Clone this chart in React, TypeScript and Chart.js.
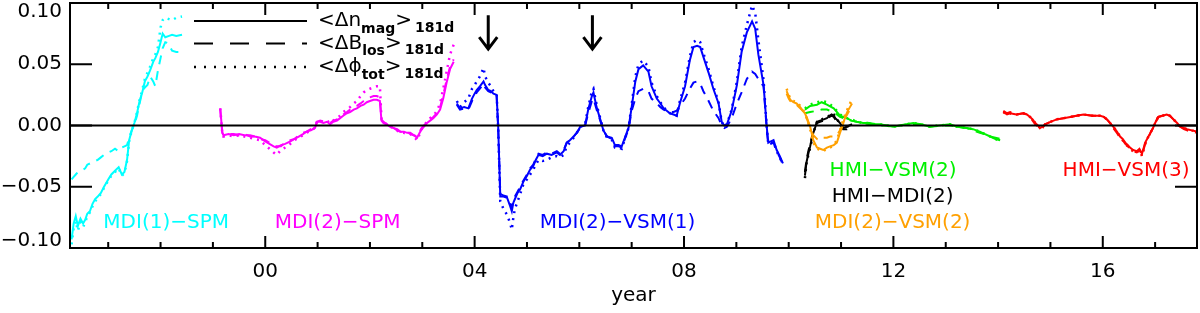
import React, { useEffect, useRef } from "react";
import { Chart, registerables } from "chart.js";

Chart.register(...registerables);

// ---------- axes ----------
const X_MIN = 1996.27;
const X_MAX = 2017.8;
const Y_MIN = -0.1;
const Y_MAX = 0.1;
const X_MAJOR = [2000, 2004, 2008, 2012, 2016];
const X_MAJOR_LABELS = ["00", "04", "08", "12", "16"];
const X_MINOR = [1997, 1998, 1999, 2001, 2002, 2003, 2005, 2006, 2007, 2009, 2010, 2011, 2013, 2014, 2015, 2017];
const Y_MAJOR = [-0.1, -0.05, 0, 0.05, 0.1];
const Y_MAJOR_LABELS = ["\u22120.10", "\u22120.05", "0.00", "0.05", "0.10"];
const X_TITLE = "year";

// ---------- MDI(1)-SPM (cyan) ----------
const cyanYears = [1996.30, 1996.34, 1996.38, 1996.42, 1996.47, 1996.52, 1996.56, 1996.60, 1996.65, 1996.70, 1996.75, 1996.80, 1996.86, 1996.92, 1997.00, 1997.06, 1997.13, 1997.20, 1997.26, 1997.31, 1997.36, 1997.40, 1997.45, 1997.50, 1997.55, 1997.60, 1997.65, 1997.70, 1997.75, 1997.80, 1997.86, 1997.90, 1997.95, 1998.00, 1998.04, 1998.09, 1998.15, 1998.22, 1998.30, 1998.41];
const cyanSolid = [-0.093, -0.080, -0.074, -0.082, -0.076, -0.080, -0.077, -0.072, -0.070, -0.064, -0.060, -0.058, -0.055, -0.050, -0.044, -0.040, -0.037, -0.034, -0.040, -0.038, -0.028, -0.012, -0.004, 0.002, 0.010, 0.020, 0.027, 0.036, 0.040, 0.045, 0.052, 0.055, 0.060, 0.068, 0.075, 0.072, 0.073, 0.074, 0.073, 0.074];
const cyanDashed = [-0.044, -0.042, -0.040, -0.038, -0.037, -0.036, -0.035, -0.032, -0.031, -0.030, -0.029, -0.028, -0.026, -0.024, -0.022, -0.021, -0.019, -0.021, -0.018, -0.017, -0.016, -0.010, -0.004, 0.001, 0.008, 0.018, 0.028, 0.031, 0.033, 0.040, 0.036, 0.032, 0.045, 0.055, 0.063, 0.068, 0.067, 0.061, 0.060, 0.060];
const cyanDotted = [-0.097, -0.084, -0.078, -0.086, -0.079, -0.083, -0.079, -0.074, -0.071, -0.066, -0.062, -0.059, -0.056, -0.051, -0.045, -0.041, -0.038, -0.035, -0.041, -0.039, -0.029, -0.013, -0.004, 0.002, 0.011, 0.021, 0.029, 0.038, 0.043, 0.048, 0.055, 0.058, 0.064, 0.080, 0.086, 0.088, 0.087, 0.086, 0.088, 0.089];

// ---------- MDI(2)-SPM (magenta) ----------
const magentaYears = [1999.14, 1999.16, 1999.18, 1999.20, 1999.30, 1999.40, 1999.50, 1999.60, 1999.71, 1999.80, 1999.90, 2000.00, 2000.08, 2000.16, 2000.22, 2000.30, 2000.38, 2000.48, 2000.56, 2000.64, 2000.72, 2000.79, 2000.87, 2000.95, 2000.99, 2001.05, 2001.11, 2001.18, 2001.24, 2001.30, 2001.37, 2001.43, 2001.49, 2001.56, 2001.62, 2001.69, 2001.75, 2001.82, 2001.88, 2001.94, 2002.00, 2002.07, 2002.13, 2002.19, 2002.22, 2002.26, 2002.32, 2002.38, 2002.45, 2002.52, 2002.58, 2002.65, 2002.71, 2002.77, 2002.84, 2002.90, 2002.95, 2002.99, 2003.05, 2003.09, 2003.15, 2003.21, 2003.28, 2003.34, 2003.40, 2003.47, 2003.53, 2003.60];
const magentaSolid = [0.014, 0.004, -0.006, -0.008, -0.007, -0.008, -0.007, -0.008, -0.008, -0.009, -0.010, -0.013, -0.015, -0.017, -0.018, -0.016, -0.015, -0.013, -0.011, -0.009, -0.007, -0.005, -0.004, -0.002, 0.003, 0.003, 0.002, 0.003, 0.001, 0.003, 0.004, 0.006, 0.008, 0.010, 0.011, 0.013, 0.014, 0.016, 0.017, 0.019, 0.020, 0.021, 0.021, 0.020, 0.004, 0.002, 0.001, -0.001, -0.002, -0.004, -0.005, -0.005, -0.006, -0.006, -0.008, -0.010, -0.006, -0.003, 0.000, 0.002, 0.004, 0.006, 0.009, 0.013, 0.022, 0.036, 0.046, 0.052];
const magentaDashed = [0.013, 0.003, -0.006, -0.007, -0.007, -0.007, -0.008, -0.007, -0.009, -0.009, -0.011, -0.012, -0.014, -0.016, -0.017, -0.017, -0.014, -0.012, -0.011, -0.008, -0.006, -0.005, -0.003, -0.001, 0.003, 0.004, 0.003, 0.002, 0.002, 0.004, 0.005, 0.007, 0.009, 0.011, 0.013, 0.015, 0.016, 0.018, 0.020, 0.022, 0.023, 0.024, 0.024, 0.023, 0.005, 0.003, 0.001, 0.000, -0.002, -0.003, -0.005, -0.006, -0.005, -0.007, -0.008, -0.009, -0.005, -0.002, 0.001, 0.003, 0.005, 0.007, 0.010, 0.015, 0.025, 0.038, 0.048, 0.054];
const magentaDotted = [0.014, 0.004, -0.007, -0.009, -0.008, -0.009, -0.008, -0.009, -0.010, -0.011, -0.012, -0.016, -0.019, -0.022, -0.024, -0.020, -0.018, -0.015, -0.012, -0.010, -0.008, -0.006, -0.004, -0.002, 0.004, 0.004, 0.003, 0.004, 0.002, 0.004, 0.006, 0.008, 0.011, 0.013, 0.015, 0.018, 0.020, 0.024, 0.027, 0.029, 0.030, 0.031, 0.032, 0.032, 0.006, 0.003, 0.001, -0.001, -0.002, -0.004, -0.006, -0.006, -0.007, -0.007, -0.009, -0.012, -0.007, -0.003, 0.001, 0.003, 0.006, 0.008, 0.012, 0.018, 0.030, 0.045, 0.058, 0.066];

// ---------- MDI(2)-VSM(1) (blue) ----------
const blueYears = [2003.66, 2003.72, 2003.80, 2003.88, 2003.95, 2004.00, 2004.04, 2004.10, 2004.17, 2004.20, 2004.26, 2004.31, 2004.36, 2004.42, 2004.45, 2004.49, 2004.55, 2004.62, 2004.68, 2004.71, 2004.74, 2004.77, 2004.82, 2004.87, 2004.93, 2005.00, 2005.06, 2005.12, 2005.17, 2005.22, 2005.30, 2005.38, 2005.47, 2005.57, 2005.63, 2005.70, 2005.76, 2005.82, 2005.89, 2005.95, 2006.02, 2006.11, 2006.17, 2006.24, 2006.27, 2006.33, 2006.40, 2006.46, 2006.53, 2006.62, 2006.68, 2006.75, 2006.81, 2006.87, 2006.94, 2007.00, 2007.07, 2007.13, 2007.22, 2007.32, 2007.38, 2007.48, 2007.55, 2007.61, 2007.67, 2007.73, 2007.80, 2007.86, 2007.92, 2008.02, 2008.11, 2008.18, 2008.25, 2008.31, 2008.37, 2008.47, 2008.56, 2008.66, 2008.72, 2008.77, 2008.82, 2008.91, 2009.01, 2009.10, 2009.20, 2009.30, 2009.36, 2009.42, 2009.52, 2009.58, 2009.61, 2009.66, 2009.71, 2009.77, 2009.83, 2009.89];
const blueSolid = [0.018, 0.014, 0.015, 0.014, 0.022, 0.026, 0.029, 0.032, 0.036, 0.033, 0.029, 0.028, 0.026, 0.025, -0.001, -0.058, -0.058, -0.059, -0.066, -0.070, -0.063, -0.060, -0.055, -0.052, -0.046, -0.041, -0.036, -0.033, -0.028, -0.024, -0.025, -0.023, -0.024, -0.022, -0.024, -0.021, -0.014, -0.012, -0.009, -0.006, -0.001, 0.000, 0.013, 0.024, 0.027, 0.015, 0.005, -0.004, -0.009, -0.010, -0.016, -0.016, -0.017, -0.010, -0.002, 0.015, 0.036, 0.046, 0.049, 0.044, 0.032, 0.022, 0.018, 0.014, 0.012, 0.010, 0.009, 0.008, 0.018, 0.032, 0.053, 0.064, 0.065, 0.064, 0.056, 0.043, 0.030, 0.018, 0.003, 0.000, 0.001, 0.012, 0.033, 0.060, 0.076, 0.085, 0.079, 0.058, 0.033, -0.001, -0.014, -0.013, -0.012, -0.020, -0.025, -0.031];
const blueDashed = [0.017, 0.013, 0.014, 0.013, 0.020, 0.024, 0.027, 0.030, 0.034, 0.031, 0.028, 0.027, 0.025, 0.024, -0.002, -0.056, -0.057, -0.058, -0.064, -0.067, -0.061, -0.058, -0.054, -0.050, -0.045, -0.040, -0.035, -0.032, -0.027, -0.023, -0.024, -0.022, -0.023, -0.021, -0.023, -0.020, -0.014, -0.012, -0.009, -0.006, -0.002, 0.000, 0.010, 0.020, 0.022, 0.013, 0.004, -0.004, -0.009, -0.011, -0.017, -0.017, -0.018, -0.011, -0.003, 0.012, 0.022, 0.028, 0.030, 0.028, 0.022, 0.018, 0.015, 0.013, 0.012, 0.011, 0.011, 0.012, 0.016, 0.022, 0.030, 0.035, 0.036, 0.034, 0.028, 0.020, 0.012, 0.006, 0.000, -0.002, -0.001, 0.006, 0.018, 0.027, 0.038, 0.044, 0.042, 0.038, 0.032, -0.003, -0.016, -0.015, -0.014, -0.021, -0.026, -0.032];
const blueDotted = [0.020, 0.015, 0.019, 0.022, 0.030, 0.033, 0.036, 0.040, 0.047, 0.040, 0.035, 0.032, 0.028, 0.026, -0.002, -0.062, -0.068, -0.073, -0.080, -0.085, -0.075, -0.068, -0.062, -0.056, -0.048, -0.044, -0.040, -0.036, -0.032, -0.028, -0.029, -0.028, -0.026, -0.025, -0.026, -0.024, -0.017, -0.014, -0.010, -0.006, -0.001, 0.001, 0.015, 0.028, 0.030, 0.017, 0.006, -0.004, -0.010, -0.012, -0.018, -0.018, -0.019, -0.011, -0.002, 0.017, 0.040, 0.050, 0.053, 0.048, 0.035, 0.024, 0.019, 0.015, 0.012, 0.010, 0.009, 0.008, 0.020, 0.035, 0.056, 0.068, 0.070, 0.068, 0.059, 0.046, 0.032, 0.019, 0.003, -0.001, 0.001, 0.013, 0.036, 0.064, 0.082, 0.098, 0.092, 0.070, 0.037, -0.001, -0.015, -0.014, -0.013, -0.021, -0.026, -0.032];

// ---------- MDI(2)-VSM(2) (orange) ----------
const orangeYears = [2009.96, 2010.00, 2010.03, 2010.09, 2010.15, 2010.22, 2010.27, 2010.31, 2010.36, 2010.41, 2010.47, 2010.54, 2010.60, 2010.66, 2010.73, 2010.79, 2010.86, 2010.92, 2010.98, 2011.03, 2011.08, 2011.13, 2011.17, 2011.21];
const orangeSolid = [0.028, 0.024, 0.021, 0.019, 0.018, 0.015, 0.012, 0.010, 0.005, -0.001, -0.012, -0.018, -0.019, -0.020, -0.018, -0.017, -0.016, -0.014, -0.006, 0.000, 0.007, 0.012, 0.015, 0.018];
const orangeDashed = [0.026, 0.022, 0.020, 0.018, 0.017, 0.014, 0.012, 0.009, 0.004, -0.002, -0.008, -0.011, -0.012, -0.010, -0.010, -0.009, -0.009, -0.008, -0.004, 0.001, 0.006, 0.010, 0.013, 0.016];
const orangeDotted = [0.030, 0.025, 0.022, 0.020, 0.019, 0.016, 0.013, 0.010, 0.004, -0.003, -0.014, -0.019, -0.020, -0.021, -0.019, -0.018, -0.016, -0.012, -0.004, 0.003, 0.009, 0.014, 0.018, 0.021];

// ---------- HMI-MDI(2) (black) ----------
const blackYears = [2010.31, 2010.34, 2010.38, 2010.41, 2010.44, 2010.47, 2010.51, 2010.54, 2010.60, 2010.67, 2010.73, 2010.78, 2010.82, 2010.86, 2010.89, 2010.94, 2010.98, 2011.04, 2011.11, 2011.16, 2011.21];
const blackSolid = [-0.041, -0.030, -0.022, -0.017, -0.011, -0.006, -0.001, 0.003, 0.004, 0.005, 0.006, 0.008, 0.009, 0.008, 0.006, 0.004, 0.002, -0.002, -0.001, 0.000, 0.001];
const blackDashed = [-0.038, -0.028, -0.020, -0.015, -0.010, -0.005, -0.001, 0.002, 0.003, 0.004, 0.005, 0.007, 0.008, 0.007, 0.005, 0.003, 0.001, -0.003, -0.003, -0.001, 0.000];
const blackDotted = [-0.043, -0.031, -0.023, -0.018, -0.012, -0.006, -0.001, 0.003, 0.004, 0.006, 0.007, 0.008, 0.010, 0.009, 0.006, 0.004, 0.002, -0.002, -0.001, 0.000, 0.002];

// ---------- HMI-VSM(2) (green) ----------
const greenYears = [2010.31, 2010.41, 2010.54, 2010.63, 2010.73, 2010.86, 2010.98, 2011.11, 2011.20, 2011.30, 2011.42, 2011.55, 2011.65, 2011.74, 2011.87, 2012.00, 2012.13, 2012.25, 2012.38, 2012.52, 2012.70, 2012.88, 2013.08, 2013.22, 2013.40, 2013.52, 2013.65, 2013.75, 2013.85, 2013.95, 2014.04];
const greenSolid = [0.013, 0.016, 0.017, 0.019, 0.017, 0.014, 0.008, 0.006, 0.004, 0.003, 0.002, 0.002, 0.001, 0.001, 0.000, -0.001, 0.000, 0.001, 0.002, 0.001, -0.001, 0.000, 0.001, -0.001, -0.002, -0.003, -0.005, -0.007, -0.009, -0.011, -0.012];
const greenDashed = [0.010, 0.011, 0.012, 0.013, 0.013, 0.011, 0.007, 0.005, 0.004, 0.003, 0.002, 0.001, 0.001, 0.000, 0.000, -0.001, 0.000, 0.001, 0.001, 0.001, -0.001, 0.000, 0.000, -0.001, -0.002, -0.004, -0.006, -0.007, -0.009, -0.010, -0.011];
const greenDotted = [0.014, 0.017, 0.019, 0.020, 0.019, 0.015, 0.009, 0.006, 0.005, 0.003, 0.002, 0.002, 0.001, 0.001, 0.000, -0.001, 0.000, 0.001, 0.002, 0.001, -0.001, 0.000, 0.001, -0.001, -0.002, -0.003, -0.005, -0.007, -0.009, -0.011, -0.013];

// ---------- HMI-VSM(3) (red) ----------
const redYears = [2014.10, 2014.17, 2014.23, 2014.35, 2014.48, 2014.55, 2014.61, 2014.66, 2014.71, 2014.76, 2014.80, 2014.85, 2014.90, 2015.00, 2015.12, 2015.25, 2015.38, 2015.50, 2015.63, 2015.80, 2015.95, 2016.02, 2016.08, 2016.14, 2016.20, 2016.27, 2016.33, 2016.38, 2016.43, 2016.48, 2016.52, 2016.58, 2016.65, 2016.70, 2016.75, 2016.81, 2016.86, 2016.91, 2016.96, 2017.00, 2017.06, 2017.14, 2017.22, 2017.28, 2017.35, 2017.42, 2017.48, 2017.55, 2017.61, 2017.70, 2017.80];
const redSolid = [0.011, 0.009, 0.010, 0.009, 0.010, 0.009, 0.007, 0.005, 0.002, 0.000, -0.002, -0.001, 0.001, 0.003, 0.005, 0.006, 0.007, 0.008, 0.009, 0.008, 0.008, 0.007, 0.005, 0.002, -0.001, -0.005, -0.009, -0.011, -0.014, -0.016, -0.018, -0.020, -0.021, -0.019, -0.023, -0.014, -0.010, -0.006, -0.002, 0.002, 0.007, 0.008, 0.009, 0.008, 0.005, 0.002, -0.001, -0.002, -0.003, -0.004, -0.005];
const redDashed = [0.012, 0.010, 0.011, 0.009, 0.010, 0.009, 0.007, 0.004, 0.001, -0.001, -0.003, -0.002, 0.001, 0.003, 0.005, 0.006, 0.007, 0.008, 0.009, 0.008, 0.008, 0.007, 0.005, 0.002, -0.002, -0.006, -0.010, -0.012, -0.015, -0.017, -0.019, -0.021, -0.022, -0.020, -0.024, -0.015, -0.011, -0.006, -0.002, 0.002, 0.007, 0.008, 0.009, 0.008, 0.005, 0.002, -0.001, -0.003, -0.004, -0.005, -0.006];
const redDotted = [0.011, 0.009, 0.010, 0.009, 0.010, 0.009, 0.007, 0.005, 0.002, 0.000, -0.002, -0.001, 0.001, 0.003, 0.005, 0.006, 0.007, 0.008, 0.009, 0.008, 0.008, 0.007, 0.005, 0.002, -0.001, -0.005, -0.009, -0.012, -0.015, -0.017, -0.019, -0.021, -0.022, -0.020, -0.025, -0.015, -0.010, -0.006, -0.002, 0.002, 0.007, 0.008, 0.009, 0.008, 0.005, 0.002, -0.001, -0.002, -0.003, -0.004, -0.005];

// ---------- series styling ----------
const GROUPS = [
  { name: "MDI(1)\u2212SPM", color: "#00FFFF", years: cyanYears, solid: cyanSolid, dashed: cyanDashed, dotted: cyanDotted },
  { name: "MDI(2)\u2212SPM", color: "#FF00FF", years: magentaYears, solid: magentaSolid, dashed: magentaDashed, dotted: magentaDotted },
  { name: "MDI(2)\u2212VSM(1)", color: "#0000FF", years: blueYears, solid: blueSolid, dashed: blueDashed, dotted: blueDotted },
  { name: "MDI(2)\u2212VSM(2)", color: "#FFA000", years: orangeYears, solid: orangeSolid, dashed: orangeDashed, dotted: orangeDotted },
  { name: "HMI\u2212VSM(2)", color: "#00F000", years: greenYears, solid: greenSolid, dashed: greenDashed, dotted: greenDotted },
  { name: "HMI\u2212MDI(2)", color: "#000000", years: blackYears, solid: blackSolid, dashed: blackDashed, dotted: blackDotted },
  { name: "HMI\u2212VSM(3)", color: "#FF0000", years: redYears, solid: redSolid, dashed: redDashed, dotted: redDotted },
];

const STYLES = [
  { key: "solid", dash: [] as number[], width: 2 },
  { key: "dashed", dash: [9, 7], width: 2 },
  { key: "dotted", dash: [2, 5], width: 2.5 },
];

// labels placed in data coordinates
const SERIES_LABELS = [
  { text: "MDI(1)\u2212SPM", color: "#00FFFF", x: 1998.107, y: -0.0791 },
  { text: "MDI(2)\u2212SPM", color: "#FF00FF", x: 2001.383, y: -0.0791 },
  { text: "MDI(2)\u2212VSM(1)", color: "#0000FF", x: 2006.73, y: -0.0791 },
  { text: "HMI\u2212VSM(2)", color: "#00F000", x: 2011.994, y: -0.0368 },
  { text: "HMI\u2212MDI(2)", color: "#000000", x: 2011.985, y: -0.058 },
  { text: "MDI(2)\u2212VSM(2)", color: "#FFA000", x: 2011.985, y: -0.0791 },
  { text: "HMI\u2212VSM(3)", color: "#FF0000", x: 2016.445, y: -0.0368 },
];

const ARROW_YEARS = [2004.26, 2006.25];
const ARROW_TOP = 0.09;
const ARROW_TIP = 0.0624;

const LEGEND = [
  { main: "<\u0394n", sub: "mag", dash: [] as number[] },
  { main: "<\u0394B", sub: "los", dash: [19, 17] },
  { main: "<\u0394\u03D5", sub: "tot", dash: [2, 8] },
];
const LEGEND_SUFFIX = "181d";

const FONT = "'DejaVu Sans', 'Liberation Sans', sans-serif";

const decorPlugin = {
  id: "decor",
  afterDatasetsDraw(chart: any) {
    const { ctx, chartArea: ca, scales } = chart;
    const xs = scales.x;
    const ys = scales.y;
    ctx.save();
    // zero line
    ctx.strokeStyle = "#000";
    ctx.lineWidth = 2;
    ctx.beginPath();
    const y0 = ys.getPixelForValue(0);
    ctx.moveTo(ca.left, y0);
    ctx.lineTo(ca.right, y0);
    ctx.stroke();

    // frame
    ctx.strokeRect(ca.left, ca.top, ca.right - ca.left, ca.bottom - ca.top);

    // x ticks
    ctx.lineWidth = 2;
    const drawXTick = (v: number, len: number) => {
      const px = xs.getPixelForValue(v);
      ctx.beginPath();
      ctx.moveTo(px, ca.bottom);
      ctx.lineTo(px, ca.bottom - len);
      ctx.moveTo(px, ca.top);
      ctx.lineTo(px, ca.top + len);
      ctx.stroke();
    };
    X_MAJOR.forEach((v) => drawXTick(v, 12));
    X_MINOR.forEach((v) => drawXTick(v, 6));
    // y ticks + labels (end labels kept inside the frame height)
    ctx.font = `20px ${FONT}`;
    ctx.fillStyle = "#000";
    ctx.textAlign = "right";
    ctx.textBaseline = "middle";
    Y_MAJOR.forEach((v, i) => {
      const py = ys.getPixelForValue(v);
      ctx.beginPath();
      ctx.moveTo(ca.left, py);
      ctx.lineTo(ca.left + 22, py);
      ctx.moveTo(ca.right, py);
      ctx.lineTo(ca.right - 22, py);
      ctx.stroke();
      const ly = Math.min(Math.max(py, ca.top + 9), ca.bottom - 7);
      ctx.fillText(Y_MAJOR_LABELS[i], ca.left - 8, ly);
    });

    // arrows
    ctx.lineWidth = 3;
    ARROW_YEARS.forEach((yr) => {
      const px = xs.getPixelForValue(yr);
      const top = ys.getPixelForValue(ARROW_TOP);
      const tip = ys.getPixelForValue(ARROW_TIP);
      ctx.beginPath();
      ctx.moveTo(px, top);
      ctx.lineTo(px, tip);
      ctx.moveTo(px - 9, tip - 12);
      ctx.lineTo(px, tip);
      ctx.lineTo(px + 9, tip - 12);
      ctx.stroke();
    });

    // series labels
    ctx.font = `20px ${FONT}`;
    ctx.textAlign = "center";
    ctx.textBaseline = "middle";
    SERIES_LABELS.forEach((l) => {
      ctx.fillStyle = l.color;
      ctx.fillText(l.text, xs.getPixelForValue(l.x), ys.getPixelForValue(l.y));
    });

    // legend
    const lx0 = 194, lx1 = 307;
    const rows = [21, 43.5, 67];
    LEGEND.forEach((item, i) => {
      const y = rows[i];
      ctx.strokeStyle = "#000";
      ctx.lineWidth = i === 2 ? 2.5 : 2;
      ctx.setLineDash(item.dash);
      ctx.beginPath();
      ctx.moveTo(lx0, y);
      ctx.lineTo(lx1, y);
      ctx.stroke();
      ctx.setLineDash([]);
      ctx.fillStyle = "#000";
      ctx.textAlign = "left";
      ctx.textBaseline = "middle";
      let x = 318;
      ctx.font = `20px ${FONT}`;
      ctx.fillText(item.main, x, y);
      x += ctx.measureText(item.main).width;
      ctx.font = `bold 14px ${FONT}`;
      ctx.fillText(item.sub, x, y + 8);
      x += ctx.measureText(item.sub).width;
      ctx.font = `20px ${FONT}`;
      ctx.fillText(">", x, y);
      x += ctx.measureText(">").width + 3;
      ctx.font = `bold 14px ${FONT}`;
      ctx.fillText(LEGEND_SUFFIX, x, y + 7);
    });
    ctx.restore();
  },
};

export default function App() {
  const ref = useRef<HTMLCanvasElement | null>(null);
  useEffect(() => {
    document.body.style.margin = "0";
    const canvas = ref.current;
    if (!canvas) return;
    const datasets: any[] = [];
    GROUPS.forEach((g: any) => {
      STYLES.forEach((s) => {
        const vals: number[] = g[s.key];
        datasets.push({
          label: `${g.name} ${s.key}`,
          data: g.years.map((x: number, i: number) => ({ x, y: vals[i] })),
          borderColor: g.color,
          backgroundColor: g.color,
          borderWidth: s.width,
          borderDash: s.dash,
          pointRadius: 0,
          tension: 0,
          fill: false,
        });
      });
    });
    const chart = new Chart(canvas, {
      type: "line",
      data: { datasets },
      options: {
        animation: false,
        responsive: false,
        maintainAspectRatio: false,
        layout: { padding: { top: 3, right: 3, left: 0, bottom: 0 } },
        plugins: { legend: { display: false }, tooltip: { enabled: false } },
        scales: {
          x: {
            type: "linear",
            min: X_MIN,
            max: X_MAX,
            grid: { display: false, drawTicks: false },
            border: { display: false },
            afterBuildTicks: (scale: any) => {
              scale.ticks = X_MAJOR.map((v) => ({ value: v }));
            },
            afterFit: (scale: any) => {
              scale.height = 65;
              scale.paddingLeft = 0;
              scale.paddingRight = 0;
            },
            ticks: {
              padding: 12,
              maxRotation: 0,
              autoSkip: false,
              color: "#000",
              font: { family: FONT, size: 20 },
              callback: (v: any) => {
                const i = X_MAJOR.indexOf(Number(v));
                return i >= 0 ? X_MAJOR_LABELS[i] : "";
              },
            },
            title: {
              display: true,
              text: X_TITLE,
              color: "#000",
              font: { family: FONT, size: 20 },
              padding: { top: 0, bottom: 5 },
            },
          },
          y: {
            type: "linear",
            min: Y_MIN,
            max: Y_MAX,
            grid: { display: false, drawTicks: false },
            border: { display: false },
            ticks: { display: false },
            afterFit: (scale: any) => {
              scale.width = 70;
              scale.paddingTop = 0;
              scale.paddingBottom = 0;
            },
          },
        },
      },
      plugins: [decorPlugin],
    });
    return () => chart.destroy();
  }, []);
  return (
    <div style={{ width: 1200, height: 313, background: "#fff" }}>
      <canvas ref={ref} width={1200} height={313} style={{ display: "block", width: 1200, height: 313 }} />
    </div>
  );
}
